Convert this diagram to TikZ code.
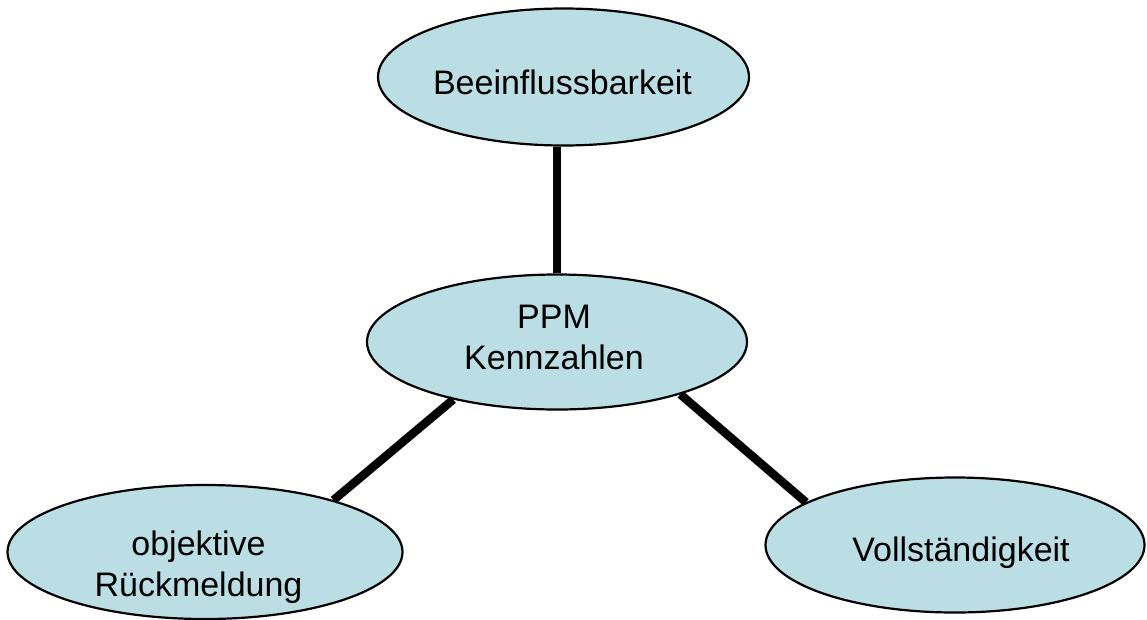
\documentclass[tikz,border=0pt]{standalone}
\usepackage{fontspec}
\setmainfont{Liberation Sans}
\usetikzlibrary{shapes.geometric}
\definecolor{ellfill}{RGB}{187,222,229}
\tikzset{
  ell/.style={ellipse, draw=black, line width=2.2pt, fill=ellfill, inner sep=0pt},
  lbl/.style={align=center, inner sep=0pt, font=\fontsize{34}{41}\selectfont},
  conn/.style={line width=8.5pt, draw=black}
}
\begin{document}
\begin{tikzpicture}[x=1pt,y=-1pt]
\useasboundingbox (0,0) rectangle (1147,619);
\node[ell, minimum width=371pt, minimum height=137pt] (t) at (563.5,77) {};
\node[ell, minimum width=380pt, minimum height=135pt] (c) at (557,342) {};
\node[ell, minimum width=395pt, minimum height=134pt] (bl) at (205,552) {};
\node[ell, minimum width=379pt, minimum height=135pt] (br) at (955,545) {};
\draw[conn] (c.north) -- (c.north |- t.south);
\draw[conn] (c.209) -- (bl.22);
\draw[conn] (c.-23.6) -- (br.164);
\node[lbl] (tl) at (562.5,82.5) {Beeinflussbarkeit};
\node[lbl] (cl) at (554,337.5) {PPM\\Kennzahlen};
\node[lbl] (bll) at (198.5,567.5) {objektive\\Rückmeldung};
\node[lbl] (brl) at (961,552.5) {Vollständigkeit};
\end{tikzpicture}
\end{document}
